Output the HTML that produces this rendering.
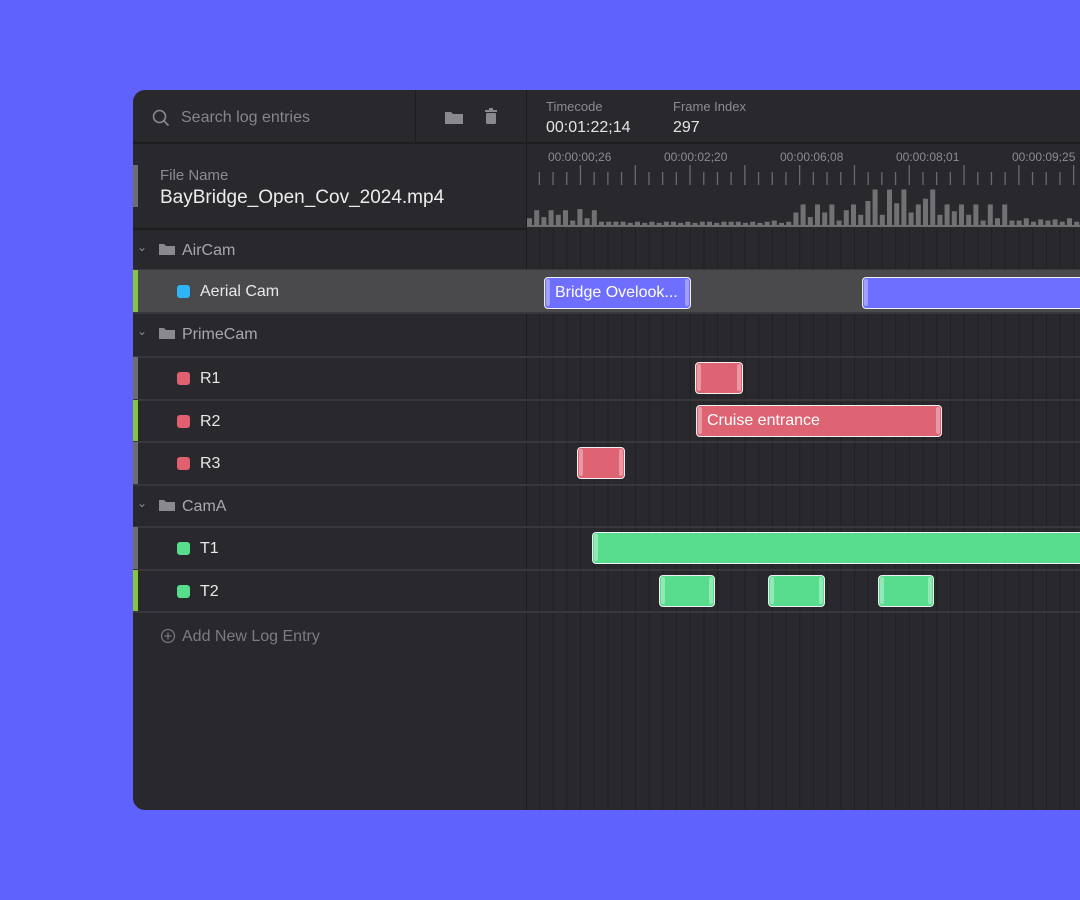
<!DOCTYPE html>
<html><head><meta charset="utf-8">
<style>
*{box-sizing:border-box;margin:0;padding:0}
body{width:1080px;height:900px;background:#6062fe;overflow:hidden;position:relative;font-family:"Liberation Sans","DejaVu Sans",sans-serif}
#panel{position:absolute;left:133px;top:90px;width:1000px;height:720px;background:#29292d;border-radius:12px;overflow:hidden}
.abs{position:absolute}
.hl{position:absolute;height:2px;background:#38383c}
.t{position:absolute;white-space:nowrap}
</style></head><body>
<div id="panel">
  <div class="abs" style="left:393px;top:0;width:1px;height:720px;background:#1c1c1f"></div>
  <div class="abs" style="left:282px;top:0;width:1px;height:53px;background:#1c1c1f"></div>
  <div class="hl" style="left:0;top:52px;width:1000px;background:#1e1e21"></div>
  <svg class="abs" style="left:19px;top:19px" width="18" height="18"><circle cx="7.5" cy="7.5" r="6" fill="none" stroke="#8a8a8e" stroke-width="1.6"/><line x1="12" y1="12" x2="16.5" y2="16.5" stroke="#8a8a8e" stroke-width="1.6"/></svg>
  <div class="t" style="left:48px;top:19px;font-size:16px;color:#85858a">Search log entries</div>
  <svg class="abs" style="left:312px;top:20px" width="18" height="14"><path d="M0 2h6l2 2h10v10H0z" fill="#8a8a8e"/></svg>
  <svg class="abs" style="left:352px;top:18px" width="12" height="17"><rect x="0" y="2" width="12" height="2" fill="#8a8a8e"/><rect x="4" y="0" width="4" height="2" fill="#8a8a8e"/><rect x="1" y="5" width="10" height="11" rx="1.5" fill="#8a8a8e"/></svg>
  <div class="t" style="left:413px;top:9px;font-size:13px;color:#8c8c90">Timecode</div>
  <div class="t" style="left:413px;top:29px;font-size:16px;color:#e4e4e6">00:01:22;14</div>
  <div class="t" style="left:540px;top:9px;font-size:13px;color:#8c8c90">Frame Index</div>
  <div class="t" style="left:540px;top:29px;font-size:16px;color:#e4e4e6">297</div>
  <div class="abs" style="left:0;top:75px;width:5px;height:42px;background:#6d6d70"></div>
  <div class="t" style="left:27px;top:77px;font-size:15px;color:#8c8c90">File Name</div>
  <div class="t" style="left:27px;top:97px;font-size:19px;color:#ececee">BayBridge_Open_Cov_2024.mp4</div>
  <div class="hl" style="left:0;top:138px;width:394px;background:#1e1e21"></div>
  <svg id="ruler" class="abs" style="left:394px;top:53px" width="606" height="86"></svg>
  <svg id="grid" class="abs" style="left:394px;top:139px" width="606" height="581"></svg>
  <div id="rows"></div>
</div>
<script>
const NS='http://www.w3.org/2000/svg';
function el(tag,attrs,parent){const e=document.createElementNS(NS,tag);for(const k in attrs)e.setAttribute(k,attrs[k]);parent.appendChild(e);return e;}
const R=document.getElementById('ruler');
const labels=['00:00:00;26','00:00:02;20','00:00:06;08','00:00:08;01','00:00:09;25'];
labels.forEach((l,i)=>{const t=el('text',{x:21+116*i,y:18,fill:'#8c8c90','font-size':'12','font-family':'Liberation Sans, sans-serif'},R);t.textContent=l;});
for(let i=0;i<50;i++){const x=11.7+13.7*i;const major=(i%4==3);el('rect',{x:x,y:major?22:29,width:1.3,height:major?20:13,fill:'#6a6a6e'},R);}
const H=[5,12,6,12,8,12,3,13,5,12,2,2,2,2,1,2,1,2,1,2,2,1,2,1,2,2,1,2,2,2,1,2,1,2,3,1,2,10,17,6,17,10,17,3,12,17,8,20,30,8,30,18,30,10,17,22,30,8,17,11,17,8,17,3,17,5,17,3,3,5,2,4,3,4,2,5,2,4,3,4,2,5,3,4,2,5,2,4];
let x=0;H.forEach((h)=>{const hh=h*1.15+3;el('rect',{x:x,y:84-hh,width:5,height:hh,fill:'#717174'},R);x+=7.2;});
el('rect',{x:0,y:82,width:606,height:2,fill:'#717174'},R);
const rows=[
 [139,41,'group','AirCam'],
 [180,43,'item','Aerial Cam','#2fb5f5','#86c53d',true],
 [223,44,'group','PrimeCam'],
 [267,43,'item','R1','#e0606f','#6d6d70'],
 [310,42,'item','R2','#e0606f','#86c53d'],
 [352,43,'item','R3','#e0606f','#6d6d70'],
 [395,42,'group','CamA'],
 [437,43,'item','T1','#57dd8c','#6d6d70'],
 [480,42,'item','T2','#57dd8c','#86c53d'],
];
let h='';
rows.forEach(r=>{
 const [y,ht,type,name,c,acc,sel]=r;
 if(sel) h+=`<div class="abs" style="left:0;top:${y}px;width:1000px;height:${ht}px;background:#4a4a4c"></div>`;
 if(type=='group'){
  h+=`<div class="t" style="left:4px;top:${y+11}px;font-size:12px;color:#8a8a8e">&#8964;</div>`;
  h+=`<svg class="abs" style="left:26px;top:${y+14}px" width="16" height="12"><path d="M0 1h5l2 2h9v9H0z" fill="#8a8a8e"/></svg>`;
  h+=`<div class="t" style="left:49px;top:${y+13}px;font-size:16px;color:#a8a8ac">${name}</div>`;
 } else {
  h+=`<div class="abs" style="left:0;top:${y}px;width:5px;height:${ht}px;background:${acc}"></div>`;
  h+=`<div class="abs" style="left:44px;top:${y+15}px;width:13px;height:13px;border-radius:3px;background:${c}"></div>`;
  h+=`<div class="t" style="left:67px;top:${y+13}px;font-size:16px;color:#e8e8ea">${name}</div>`;
 }
 h+=`<div class="hl" style="left:0;top:${y+ht-1}px;width:1000px"></div>`;
});
h+=`<svg class="abs" style="left:27px;top:538px" width="16" height="16"><circle cx="8" cy="8" r="6.5" fill="none" stroke="#77777b" stroke-width="1.3"/><path d="M8 4.5v7M4.5 8h7" stroke="#77777b" stroke-width="1.3"/></svg>`;
h+=`<div class="t" style="left:49px;top:538px;font-size:16px;color:#7c7c80">Add New Log Entry</div>`;
function clip(x,y,w,col,text){
 let s=`<div class="abs" style="left:${x-133}px;top:${y-90}px;width:${w}px;height:32px;border-radius:4px;background:${col};border:1.5px solid #f0f0f2;overflow:hidden">`;
 s+=`<div class="abs" style="left:1px;top:1px;width:4px;height:27px;background:rgba(255,255,255,.35);border-radius:2px"></div>`;
 s+=`<div class="abs" style="right:1px;top:1px;width:4px;height:27px;background:rgba(255,255,255,.35);border-radius:2px"></div>`;
 if(text) s+=`<div class="t" style="left:10px;top:6px;font-size:16px;color:#fff">${text}</div>`;
 return s+'</div>';
}
const B='#6e6eff',Rd='#de6373',G='#58dd8e';
h+=clip(544,277,147,B,'Bridge Ovelook...');
h+=clip(862,277,260,B,'');
h+=clip(695,362,48,Rd,'');
h+=clip(696,405,246,Rd,'Cruise entrance');
h+=clip(577,447,48,Rd,'');
h+=clip(592,532,540,G,'');
h+=clip(659,575,56,G,'');
h+=clip(768,575,57,G,'');
h+=clip(878,575,56,G,'');
document.getElementById('rows').outerHTML=h;
const Gd=document.getElementById('grid');
for(let i=0;i<45;i++){el('rect',{x:12+13.7*i,y:0,width:1,height:581,fill:'#202023'},Gd);}
</script>
</body></html>
